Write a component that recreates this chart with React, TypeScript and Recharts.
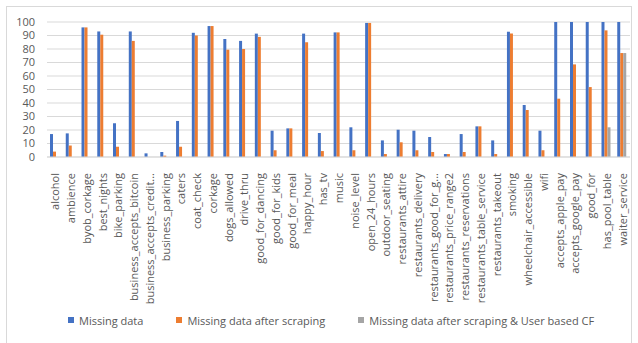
import { BarChart, Bar, XAxis, YAxis, CartesianGrid, Legend } from "recharts";

const categories = [
  "alcohol",
  "ambience",
  "byob_corkage",
  "best_nights",
  "bike_parking",
  "business_accepts_bitcoin",
  "business_accepts_credit...",
  "business_parking",
  "caters",
  "coat_check",
  "corkage",
  "dogs_allowed",
  "drive_thru",
  "good_for_dancing",
  "good_for_kids",
  "good_for_meal",
  "happy_hour",
  "has_tv",
  "music",
  "noise_level",
  "open_24_hours",
  "outdoor_seating",
  "restaurants_attire",
  "restaurants_delivery",
  "restaurants_good_for_g...",
  "restaurants_price_range2",
  "restaurants_reservations",
  "restaurants_table_service",
  "restaurants_takeout",
  "smoking",
  "wheelchair_accessible",
  "wifi",
  "accepts_apple_pay",
  "accepts_google_pay",
  "good_for",
  "has_pool_table",
  "waiter_service",
];

const missing = [
  17, 17.5, 96, 93, 25, 93, 2.7, 3.7, 26.7, 92, 97, 87.4, 86, 91.4, 19.5, 21.2,
  91.4, 17.8, 92.3, 22, 99.3, 12.3, 20.2, 19.5, 14.8, 2.2, 17, 22.7, 12.3, 92.8,
  38.5, 19.5, 100, 100, 100, 100, 100,
];

const afterScraping = [
  4, 8.5, 96, 90.6, 7.6, 86, 0, 1, 7.6, 90, 97, 79.5, 80, 89, 5, 21.2, 85, 4.4,
  92.3, 5, 99.3, 2.2, 10.9, 5, 3.7, 2.2, 3.7, 22.7, 2.2, 91.4, 34.8, 5, 43.2,
  68.6, 51.8, 93.8, 77,
];

const afterCF = [
  0, 0, 0, 0, 0, 0, 0, 0, 0, 0, 0, 0, 0, 0, 0, 0, 0, 0, 0, 0, 0, 0, 0, 0, 0, 0,
  0, 0, 0, 0, 0, 0, 0, 0, 0, 22, 77,
];

const yTicks = [0, 10, 20, 30, 40, 50, 60, 70, 80, 90, 100];

const series = [
  { key: "missing", name: "Missing data", color: "#4472C4" },
  { key: "scraped", name: "Missing data after scraping", color: "#ED7D31" },
  { key: "cf", name: "Missing data after scraping & User based CF", color: "#A5A5A5" },
];

const data = categories.map((name, i) => ({
  name,
  missing: missing[i],
  scraped: afterScraping[i],
  cf: afterCF[i],
}));

const FONT = "'Open Sans', sans-serif";

function CategoryTick(props: any) {
  const { x, y, payload } = props;
  return (
    <text
      x={x}
      y={y + 8}
      transform={`rotate(-90, ${x}, ${y + 8})`}
      textAnchor="end"
      dominantBaseline="central"
      fontSize={11}
      fontFamily={FONT}
      fill="#595959"
    >
      {payload.value}
    </text>
  );
}

function LegendContent() {
  return (
    <div
      style={{
        display: "flex",
        justifyContent: "flex-start",
        gap: 33,
        paddingLeft: 68,
        fontFamily: FONT,
        fontSize: 11,
        color: "#595959",
        height: 20,
        alignItems: "center",
        whiteSpace: "nowrap",
      }}
    >
      {series.map((s) => (
        <span key={s.key} style={{ display: "flex", alignItems: "center" }}>
          <span
            style={{
              width: 6,
              height: 6,
              background: s.color,
              display: "inline-block",
              marginRight: 5,
            }}
          />
          {s.name}
        </span>
      ))}
    </div>
  );
}

export default function App() {
  return (
    <div
      style={{
        position: "absolute",
        left: 0,
        top: 0,
        width: 638,
        height: 343,
        background: "#fff",
        overflow: "hidden",
      }}
    >
      <div
        style={{
          position: "absolute",
          left: 6,
          top: 6,
          width: 624,
          height: 345,
          border: "1px solid #d9d9d9",
        }}
      />
      <BarChart
        width={638}
        height={343}
        data={data}
        margin={{ top: 22, right: 8, bottom: 13, left: 0 }}
        barGap={0}
        barSize={3}
      >
        <CartesianGrid vertical={false} stroke="#d9d9d9" />
        <XAxis
          dataKey="name"
          interval={0}
          height={153}
          tickLine={false}
          axisLine={{ stroke: "#d9d9d9" }}
          tick={<CategoryTick />}
        />
        <YAxis
          width={47}
          domain={[0, 100]}
          ticks={yTicks}
          interval={0}
          tickLine={false}
          axisLine={false}
          tickMargin={6}
          tick={{ fontSize: 11, fontFamily: FONT, fill: "#595959" }}
        />
        <Legend
          verticalAlign="bottom"
          wrapperStyle={{ height: 20 }}
          content={<LegendContent />}
        />
        {series.map((s) => (
          <Bar
            key={s.key}
            dataKey={s.key}
            name={s.name}
            fill={s.color}
            isAnimationActive={false}
          />
        ))}
      </BarChart>
    </div>
  );
}
